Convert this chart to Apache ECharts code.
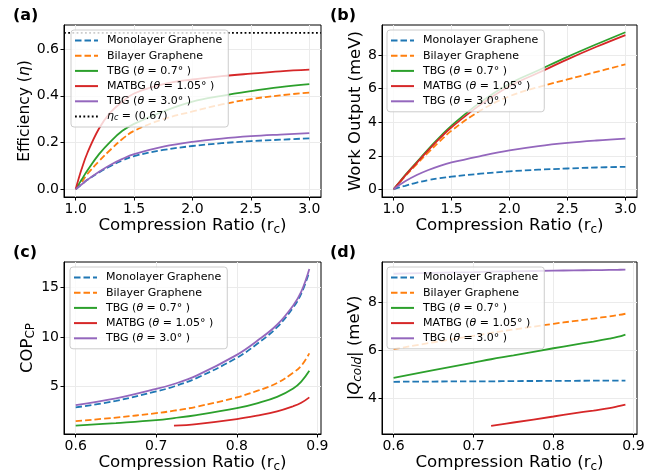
<!DOCTYPE html>
<html>
<head>
<meta charset="utf-8">
<script src="https://cdn.jsdelivr.net/npm/echarts@6/dist/echarts.min.js"></script>
<style>html,body{margin:0;padding:0;background:#fff}#c{width:665px;height:474px}</style>
</head>
<body>
<div id="c"></div>
<script>
// ---------- data ----------
const seriesNames = ['Monolayer Graphene', 'Bilayer Graphene', 'TBG (θ=0.7°)', 'MATBG (θ=1.05°)', 'TBG (θ=3.0°)'];
const carnotName = 'η_c = (0.67)';
const etaCarnot = 0.67;

// panels (a),(b): compression ratio 1..3
const xHeat = [1.0, 1.05, 1.1, 1.2, 1.3, 1.4, 1.5, 1.75, 2.0, 2.25, 2.5, 2.75, 3.0];
const effMono   = [0, 0.02, 0.04, 0.072, 0.1, 0.123, 0.142, 0.168, 0.185, 0.197, 0.206, 0.212, 0.218];
const effBi     = [0, 0.03, 0.065, 0.12, 0.17, 0.215, 0.25, 0.3, 0.333, 0.363, 0.386, 0.402, 0.414];
const effTBG07  = [0, 0.04, 0.08, 0.15, 0.205, 0.25, 0.28, 0.333, 0.375, 0.4, 0.42, 0.437, 0.45];
const effMATBG  = [0, 0.085, 0.155, 0.26, 0.33, 0.375, 0.41, 0.45, 0.47, 0.484, 0.495, 0.505, 0.512];
const effTBG30  = [0, 0.02, 0.04, 0.075, 0.105, 0.13, 0.15, 0.182, 0.203, 0.217, 0.227, 0.234, 0.24];

const workMono  = [0, 0.11, 0.21, 0.4, 0.55, 0.66, 0.75, 0.93, 1.07, 1.17, 1.24, 1.3, 1.34];
const workBi    = [0, 0.39, 0.78, 1.5, 2.2, 2.87, 3.5, 4.7, 5.55, 6.1, 6.55, 7.0, 7.45];
const workTBG07 = [0, 0.42, 0.84, 1.62, 2.4, 3.12, 3.8, 5.2, 6.3, 7.1, 7.9, 8.65, 9.37];
const workMATBG = [0, 0.41, 0.82, 1.58, 2.34, 3.05, 3.7, 5.05, 6.15, 6.95, 7.75, 8.5, 9.2];
const workTBG30 = [0, 0.25, 0.48, 0.85, 1.15, 1.4, 1.6, 1.98, 2.32, 2.58, 2.77, 2.91, 3.02];

// panels (c),(d): compression ratio 0.6..0.89
const xCool = [0.6, 0.65, 0.7, 0.722, 0.75, 0.8, 0.825, 0.85, 0.87, 0.88, 0.89];
const copMono   = [2.88, 3.55, 4.5, 5.0, 5.85, 7.9, 9.3, 11.0, 13.0, 14.4, 16.6];
const copBi     = [1.5, 1.85, 2.3, 2.55, 2.95, 3.9, 4.55, 5.35, 6.4, 7.1, 8.35];
const copTBG07  = [1.03, 1.3, 1.6, 1.8, 2.1, 2.8, 3.3, 3.95, 4.8, 5.5, 6.6];
const copMATBG  = [null, null, null, 1.03, 1.2, 1.7, 2.05, 2.48, 3.0, 3.35, 3.9];
const copTBG30  = [3.12, 3.8, 4.75, 5.25, 6.1, 8.2, 9.6, 11.25, 13.2, 14.6, 16.9];

const qMono   = [4.70, 4.71, 4.72, 4.72, 4.73, 4.735, 4.74, 4.745, 4.748, 4.75, 4.75];
const qBi     = [6.06, 6.35, 6.62, 6.74, 6.88, 7.12, 7.23, 7.34, 7.43, 7.48, 7.54];
const qTBG07  = [4.86, 5.19, 5.5, 5.64, 5.8, 6.1, 6.24, 6.38, 6.5, 6.57, 6.67];
const qMATBG  = [null, null, null, 2.86, 3.0, 3.25, 3.38, 3.5, 3.6, 3.67, 3.75];
const qTBG30  = [9.21, 9.25, 9.28, 9.3, 9.31, 9.34, 9.35, 9.36, 9.37, 9.375, 9.38];

const ticksXHeat = [1.0, 1.5, 2.0, 2.5, 3.0];
const ticksXCool = [0.6, 0.7, 0.8, 0.9];
const ticksEff = [0.0, 0.2, 0.4, 0.6];
const ticksWork = [0, 2, 4, 6, 8];
const ticksCop = [5, 10, 15];
const ticksQ = [4, 6, 8];

// ---------- styling ----------
const FONT = 'DejaVu Sans';
const colors = ['#1f77b4', '#ff7f0e', '#2ca02c', '#d62728', '#9467bd'];
const dashed = [true, true, false, false, false];
const LW = 1.8;

const grids = [
  {left: 64, top: 25, width: 257, height: 172},
  {left: 382, top: 25, width: 255, height: 172},
  {left: 64, top: 262, width: 257, height: 172},
  {left: 382, top: 262, width: 255, height: 172}
];

const richBase = {
  n: {fontFamily: FONT, fontSize: 11, color: '#000'},
  i: {fontFamily: FONT, fontSize: 11, fontStyle: 'italic', color: '#000'},
  s: {fontFamily: FONT, fontSize: 8, fontStyle: 'italic', color: '#000', verticalAlign: 'bottom', lineHeight: 10}
};
const legendLabel = {
  'Monolayer Graphene': '{n|Monolayer Graphene}',
  'Bilayer Graphene': '{n|Bilayer Graphene}',
  'TBG (θ=0.7°)': '{n|TBG (}{i|θ}{n| = 0.7° )}',
  'MATBG (θ=1.05°)': '{n|MATBG (}{i|θ}{n| = 1.05° )}',
  'TBG (θ=3.0°)': '{n|TBG (}{i|θ}{n| = 3.0° )}',
  'η_c = (0.67)': '{i|η}{s|c}{n| = (0.67)}'
};

function mkLegend(left, top, names) {
  return {
    orient: 'vertical', left: left, top: top, data: names,
    itemWidth: 23, itemHeight: 12, itemGap: 4.2,
    padding: [5, 6, 5, 3],
    backgroundColor: 'rgba(255,255,255,0.8)',
    borderColor: '#cccccc', borderWidth: 1, borderRadius: 3,
    selectedMode: false, z: 6,
    itemStyle: {opacity: 0, color: 'transparent', borderWidth: 0},
    textStyle: {fontFamily: FONT, fontSize: 11, color: '#000', padding: [0, 0, 0, 4], rich: richBase},
    formatter: function (nm) { return legendLabel[nm] || nm; }
  };
}

const axisNameRich = {
  n: {fontFamily: FONT, fontSize: 16.7, color: '#000', lineHeight: 20},
  s: {fontFamily: FONT, fontSize: 12, color: '#000', verticalAlign: 'bottom', lineHeight: 12}
};
function yRich(fs) {
  const lh = Math.round(fs * 1.15);
  const ss = Math.round(fs * 0.7);
  return {
    n: {fontFamily: FONT, fontSize: fs, color: '#000', lineHeight: lh},
    i: {fontFamily: FONT, fontSize: fs, fontStyle: 'italic', color: '#000', lineHeight: lh},
    s: {fontFamily: FONT, fontSize: ss, color: '#000', verticalAlign: 'bottom', lineHeight: ss},
    si: {fontFamily: FONT, fontSize: ss, fontStyle: 'italic', color: '#000', verticalAlign: 'bottom', lineHeight: ss}
  };
}

function mkX(gi, min, max, ticks, dec) {
  return {
    type: 'value', gridIndex: gi, min: min, max: max,
    name: '{n|Compression Ratio (r}{s|c}{n|)}', nameLocation: 'middle', nameGap: 18,
    nameTextStyle: {rich: axisNameRich},
    axisLine: {show: true, onZero: false, lineStyle: {color: '#000', width: 1}},
    axisTick: {show: true, inside: false, length: 3.5, lineStyle: {color: '#000', width: 1}, customValues: ticks},
    axisLabel: {customValues: ticks, formatter: v => Number(v).toFixed(dec), fontFamily: FONT, fontSize: 14, color: '#000', margin: 5},
    splitLine: {show: true, lineStyle: {color: '#ebebeb', width: 1}}
  };
}
function mkY(gi, min, max, ticks, dec, name, gap, fs) {
  return {
    type: 'value', gridIndex: gi, min: min, max: max,
    name: name, nameLocation: 'middle', nameGap: gap, nameRotate: 90,
    nameTextStyle: {rich: yRich(fs)},
    axisLine: {show: true, onZero: false, lineStyle: {color: '#000', width: 1}},
    axisTick: {show: true, inside: false, length: 3.5, lineStyle: {color: '#000', width: 1}, customValues: ticks},
    axisLabel: {customValues: ticks, formatter: v => Number(v).toFixed(dec), fontFamily: FONT, fontSize: 14, color: '#000', margin: 5},
    splitLine: {show: true, lineStyle: {color: '#ebebeb', width: 1}}
  };
}

function mkSeries(gi, xs, ysList) {
  return ysList.map((ys, k) => ({
    type: 'line', name: seriesNames[k], xAxisIndex: gi, yAxisIndex: gi,
    data: xs.map((x, i) => [x, ys[i]]).filter(p => p[1] !== null),
    symbol: 'none', showSymbol: false, smooth: 0.4,
    lineStyle: {color: colors[k], width: LW, type: dashed[k] ? [6.5, 3] : 'solid'},
    itemStyle: {color: colors[k]}, emphasis: {disabled: true}, z: 2, animation: false
  }));
}

const xAMin = 0.9, xAMax = 3.1, xCMin = 0.5855, xCMax = 0.9045;

const series = []
  .concat(mkSeries(0, xHeat, [effMono, effBi, effTBG07, effMATBG, effTBG30]))
  .concat([{
    type: 'line', name: carnotName, xAxisIndex: 0, yAxisIndex: 0,
    data: [[xAMin, etaCarnot], [xAMax, etaCarnot]], symbol: 'none', showSymbol: false,
    lineStyle: {color: '#000', width: LW, type: [1.8, 2.4]}, itemStyle: {color: '#000'}, animation: false
  }])
  .concat(mkSeries(1, xHeat, [workMono, workBi, workTBG07, workMATBG, workTBG30]))
  .concat(mkSeries(2, xCool, [copMono, copBi, copTBG07, copMATBG, copTBG30]))
  .concat(mkSeries(3, xCool, [qMono, qBi, qTBG07, qMATBG, qTBG30]));

const option = {
  animation: false,
  backgroundColor: '#fff',
  textStyle: {fontFamily: FONT},
  grid: grids.map(g => Object.assign({show: true, borderColor: '#000', borderWidth: 1, backgroundColor: 'transparent', containLabel: false}, g)),
  xAxis: [
    mkX(0, xAMin, xAMax, ticksXHeat, 1),
    mkX(1, xAMin, xAMax, ticksXHeat, 1),
    mkX(2, xCMin, xCMax, ticksXCool, 1),
    mkX(3, xCMin, xCMax, ticksXCool, 1)
  ],
  yAxis: [
    mkY(0, -0.0335, 0.7035, ticksEff, 1, '{n|Efficiency (}{i|η}{n|)}', 26.5, 15.5),
    mkY(1, -0.46, 9.8, ticksWork, 0, '{n|Work Output (meV)}', 15.3, 16.5),
    mkY(2, 0.19, 17.6, ticksCop, 0, '{n|COP}{s|CP}', 23, 16.5),
    mkY(3, 2.52, 9.7, ticksQ, 0, '{n||}{i|Q}{si|cold}{n|| (meV)}', 16.3, 16.5)
  ],
  legend: [
    mkLegend(71, 30, seriesNames.concat([carnotName])),
    mkLegend(387, 30, seriesNames),
    mkLegend(70, 267, seriesNames),
    mkLegend(387, 267, seriesNames)
  ],
  graphic: [
    {type: 'text', left: 13, top: 8, style: {text: '(a)', font: 'bold 16px "DejaVu Sans"', fill: '#000'}},
    {type: 'text', left: 330, top: 8, style: {text: '(b)', font: 'bold 16px "DejaVu Sans"', fill: '#000'}},
    {type: 'text', left: 13, top: 245, style: {text: '(c)', font: 'bold 16px "DejaVu Sans"', fill: '#000'}},
    {type: 'text', left: 330, top: 245, style: {text: '(d)', font: 'bold 16px "DejaVu Sans"', fill: '#000'}}
  ],
  series: series
};

const chart = echarts.init(document.getElementById('c'), null, {renderer: 'canvas'});
chart.setOption(option);
</script>
</body>
</html>
